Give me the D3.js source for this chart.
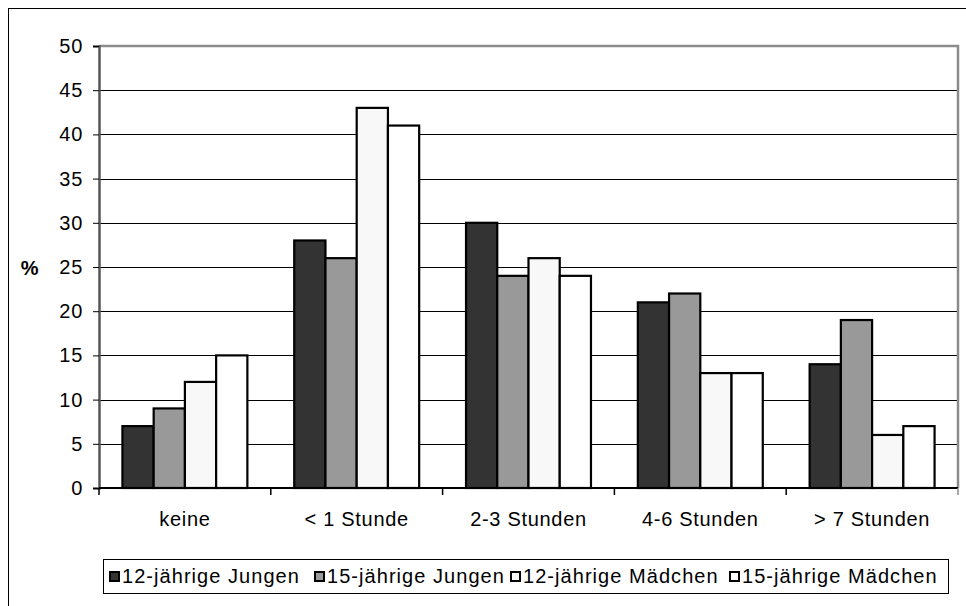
<!DOCTYPE html>
<html><head><meta charset="utf-8">
<script src="https://cdn.jsdelivr.net/npm/d3@7"></script>
<style>html,body{margin:0;padding:0;background:#fff;}svg{display:block;font-family:"Liberation Sans",Arial,sans-serif;}text{letter-spacing:0.7px;}</style>
</head><body>
<svg id="c" width="966" height="606"></svg>
<script>
const categories = ["keine", "< 1 Stunde", "2-3 Stunden", "4-6 Stunden", "> 7 Stunden"];
const seriesNames = ["12-jährige Jungen", "15-jährige Jungen", "12-jährige Mädchen", "15-jährige Mädchen"];
const jungen12 = [7, 28, 30, 21, 14];
const jungen15 = [9, 26, 24, 22, 19];
const maedchen12 = [12, 43, 26, 13, 6];
const maedchen15 = [15, 41, 24, 13, 7];
const yTicks = [0, 5, 10, 15, 20, 25, 30, 35, 40, 45, 50];
const colors = ["#333333", "#999999", "#f8f8f8", "#ffffff"];

const series = [jungen12, jungen15, maedchen12, maedchen15];
const svg = d3.select("#c");
const L = 99, R = 958, T = 46, B = 488;
const FS = 20;

// outer frame
svg.append("rect").attr("x", 8.5).attr("y", 8.5).attr("width", 1000).attr("height", 1000)
  .attr("fill", "none").attr("stroke", "#000").attr("stroke-width", 1);

const x = d3.scaleBand().domain(categories).range([L, R]).paddingInner(0).paddingOuter(0);
// group of 4 bars occupies 4/5.5 of each category
const groupW = x.bandwidth() * 4 / 5.5;
const xin = d3.scaleBand().domain(d3.range(4)).range([(x.bandwidth() - groupW) / 2, (x.bandwidth() + groupW) / 2]);
const y = d3.scaleLinear().domain([0, 50]).range([B, T]);

// gridlines
svg.append("g").selectAll("line").data(yTicks.filter(d => d > 0 && d < 50)).join("line")
  .attr("x1", L).attr("x2", R).attr("y1", d => Math.round(y(d)) + 0.5).attr("y2", d => Math.round(y(d)) + 0.5)
  .attr("stroke", "#000").attr("stroke-width", 1);

// plot border top/right gray
svg.append("path").attr("d", `M${L},${T}H${R}V${B}`).attr("fill", "none")
  .attr("stroke", "#8c8c8c").attr("stroke-width", 2.5);

// bars
const g = svg.append("g");
categories.forEach((c, ci) => {
  series.forEach((s, si) => {
    g.append("rect")
      .attr("x", x(c) + xin(si))
      .attr("y", y(s[ci]))
      .attr("width", xin.bandwidth())
      .attr("height", B - y(s[ci]))
      .attr("fill", colors[si]).attr("stroke", "#000").attr("stroke-width", 2.2);
  });
});

// y axis
const yAxis = d3.axisLeft(y).tickValues(yTicks).tickSize(6).tickPadding(10);
const ya = svg.append("g").attr("transform", `translate(${L},0)`).call(yAxis);
ya.select(".domain").attr("stroke", "#555").attr("stroke-width", 2.5);
ya.selectAll(".tick line").attr("stroke", "#000");
ya.selectAll(".tick text").attr("font-size", FS).attr("fill", "#000").attr("font-family", "Liberation Sans, Arial, sans-serif");

// x axis
const xa = svg.append("g").attr("transform", `translate(0,${B})`)
  .call(d3.axisBottom(x).tickSize(0).tickPadding(0));
xa.select(".domain").attr("stroke", "#000").attr("stroke-width", 2).attr("d", `M${L},0H${R}`);
xa.selectAll(".tick text").attr("font-size", FS).attr("fill", "#000").attr("dy", null).attr("y", 38)
  .attr("font-family", "Liberation Sans, Arial, sans-serif");
// category separator ticks
svg.append("g").selectAll("line").data(categories.concat(["end"])).join("line")
  .attr("x1", (d, i) => i < 5 ? x(d) : R).attr("x2", (d, i) => i < 5 ? x(d) : R)
  .attr("y1", B).attr("y2", B + 7).attr("stroke", (d, i) => i < 5 ? "#000" : "#8c8c8c").attr("stroke-width", 1.5);

// % label
svg.append("text").attr("x", 30).attr("y", 275).attr("text-anchor", "middle")
  .attr("font-size", FS).attr("font-weight", "bold").text("%");

// legend
svg.append("rect").attr("x", 103.5).attr("y", 559.5).attr("width", 845).attr("height", 34)
  .attr("fill", "#fff").attr("stroke", "#000").attr("stroke-width", 1);
const legX = [110, 315, 511, 730];
seriesNames.forEach((n, i) => {
  svg.append("rect").attr("x", legX[i]).attr("y", 572).attr("width", 9).attr("height", 9)
    .attr("fill", colors[i]).attr("stroke", "#000").attr("stroke-width", 2);
  svg.append("text").attr("x", legX[i] + 12).attr("y", 583).attr("font-size", FS)
    .style("letter-spacing", "1.05px").text(n);
});
</script>
</body></html>
